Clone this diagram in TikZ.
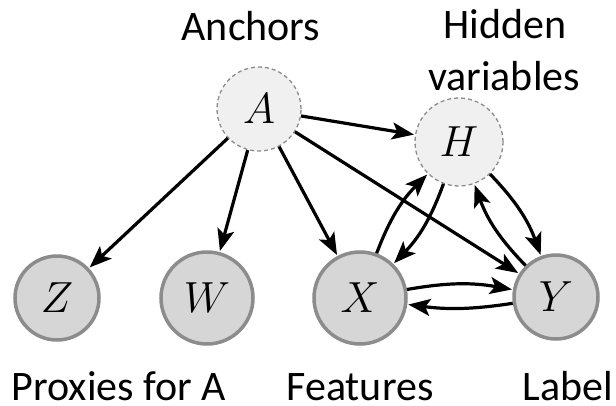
\RequirePackage{fix-cm}
\documentclass[tikz,border=0pt]{standalone}
\usepackage{fontspec}
\setmainfont{Carlito}
\usetikzlibrary{arrows.meta}
% variable letter inside a node, enlarged math italic
\newcommand\varletter[1]{\scalebox{1.75}{$#1$}}
\begin{document}
\begin{tikzpicture}[x=1pt,y=-1pt,
  observed/.style={circle,draw=black!45,line width=3.5pt,fill=black!16,inner sep=0pt,font=\Huge},
  latent/.style={circle,draw=black!45,dashed,dash pattern=on 4pt off 3pt,line width=1.3pt,fill=black!6,inner sep=0pt,font=\Huge},
  caption/.style={font=\fontsize{42}{52}\selectfont,align=center,inner sep=0pt,anchor=base},
  edge/.style={-{Stealth[length=22pt,width=17pt,inset=5pt]},line width=3.2pt,shorten >=1pt}
]
\useasboundingbox (0,0) rectangle (616,405);
\node[latent,minimum size=84pt] (A) at (259,109) {\varletter{A}};
\node[latent,minimum size=88pt] (H) at (459,142) {\varletter{H}};
\node[observed,minimum size=84pt] (Z) at (57,298) {\varletter{Z}};
\node[observed,minimum size=92pt] (W) at (207,298) {\varletter{W}};
\node[observed,minimum size=92pt] (X) at (360,298) {\varletter{X}};
\node[observed,minimum size=84pt] (Y) at (556,297) {\varletter{Y}};

\node[caption] (anchors) at (251,40) {Anchors};
\node[caption] (hidden) at (505,38) {Hidden};
\node[caption] (variables) at (504,90) {variables};
\node[caption] (proxies) at (119,400) {Proxies for A};
\node[caption] (features) at (360,400) {Features};
\node[caption] (label) at (568,400) {Label};

\draw[edge] (A) -- (Z);
\draw[edge] (A) -- (W);
\draw[edge] (A) -- (X);
\draw[edge] (A) -- (H);
\draw[edge] (A) -- (Y);
\draw[edge] (X) to[bend left=12] (H);
\draw[edge] (H) to[bend left=12] (X);
\draw[edge] (X) to[bend left=10] (Y);
\draw[edge] (Y) to[bend left=8] (X);
\draw[edge] (H) to[bend left=12] (Y);
\draw[edge] (Y) to[bend left=12] (H);
\end{tikzpicture}
\end{document}
